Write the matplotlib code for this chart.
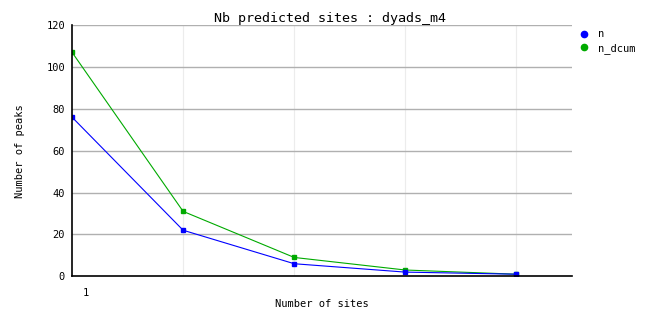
import matplotlib
matplotlib.use('Agg')
import matplotlib.pyplot as plt
from matplotlib.lines import Line2D

sites = [1, 2, 3, 4, 5]
n = [76, 22, 6, 2, 1]
n_dcum = [107, 31, 9, 3, 1]
yticks = [0, 20, 40, 60, 80, 100, 120]

plt.rcParams['font.family'] = ['DejaVu Sans Mono']

fig = plt.figure(figsize=(6.62, 3.28), dpi=100)
ax = fig.add_axes([72/662, (328-276.3)/328, 500/662, 251.3/328])

for x in sites[1:]:
    ax.axvline(x, color='#ececec', lw=0.8, zorder=0)
for y in yticks[1:]:
    ax.axhline(y, color='#b0b0b0', lw=1.0, zorder=0)

ax.plot(sites, n_dcum, color='#00aa00', lw=0.8, marker='s', ms=3, mec='#00aa00')
ax.plot(sites, n, color='#0000ff', lw=0.8, marker='s', ms=3, mec='#0000ff')

ax.set_xlim(1, 5.5)
ax.set_ylim(0, 120)
ax.set_yticks(yticks)
ax.set_xticks([])
ax.tick_params(axis='y', length=0, labelsize=7.5, pad=5)
ax.text(0.028, -0.045, '1', transform=ax.transAxes, ha='center', va='top', fontsize=7.5)
for s in ['top', 'right']:
    ax.spines[s].set_visible(False)
ax.spines['left'].set_linewidth(1.2)
ax.spines['bottom'].set_linewidth(1.2)

ax.set_title('Nb predicted sites : dyads_m4', fontsize=9.6, pad=1.5, x=0.516)
ax.set_xlabel('Number of sites', fontsize=7.5, labelpad=16)
ax.set_ylabel('Number of peaks', fontsize=7.5, labelpad=15)

handles = [Line2D([], [], ls='none', marker='o', ms=4.5, color='#0000ff'),
           Line2D([], [], ls='none', marker='o', ms=4.5, color='#00aa00')]
ax.legend(handles, ['n', 'n_dcum'], loc='upper left', bbox_to_anchor=(1.008, 1.0),
          frameon=False, fontsize=7.5, handlelength=0.8, handletextpad=0.9,
          labelspacing=0.35, borderaxespad=0)

fig.savefig('out.png', dpi=100)
